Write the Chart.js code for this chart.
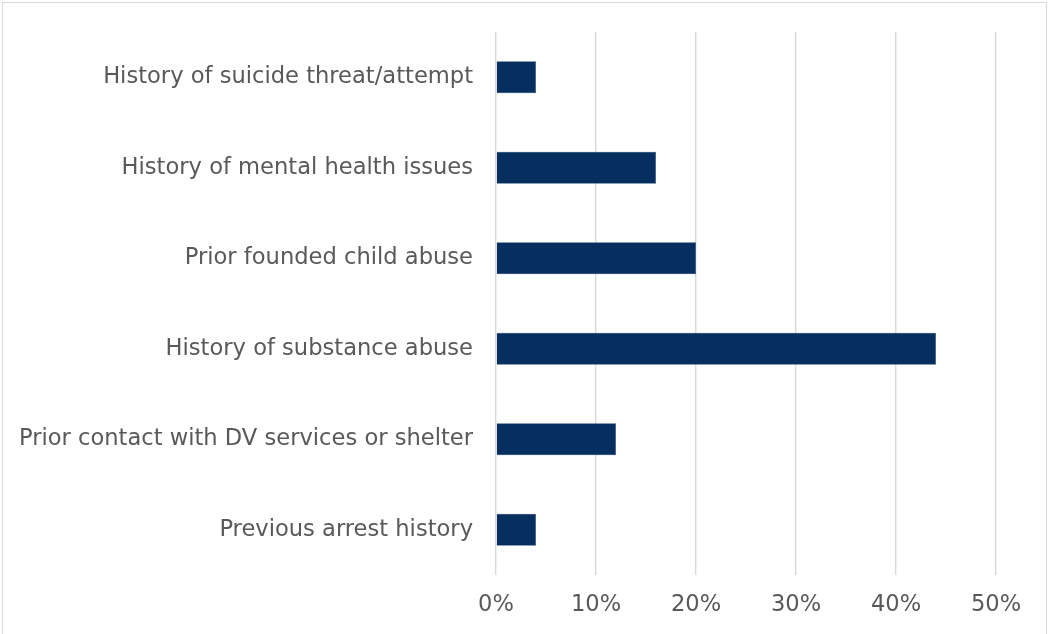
<!DOCTYPE html>
<html>
<head>
<meta charset="utf-8">
<script src="https://cdn.jsdelivr.net/npm/chart.js@4"></script>
<style>
  html, body { margin: 0; padding: 0; background: #fff; }
  #wrap { position: relative; width: 1051px; height: 634px; overflow: hidden; }
  #frame {
    position: absolute; left: 2px; top: 2px; width: 1045px; height: 640px;
    border: 1px solid #d9d9d9; box-sizing: border-box;
  }
  #chart { position: absolute; left: 0; top: 0; }
</style>
</head>
<body>
<div id="wrap">
  <div id="frame"></div>
  <canvas id="chart" width="1051" height="634"></canvas>
</div>
<script>
// risk factors, top to bottom
let categories = [
    "History of suicide threat/attempt",
    "History of mental health issues",
    "Prior founded child abuse",
    "History of substance abuse",
    "Prior contact with DV services or shelter",
    "Previous arrest history"
];
let percentValues = [4, 16, 20, 44, 12, 4];
let tickValues = [0, 10, 20, 30, 40, 50];

let labelFont = { family: "'DejaVu Sans', sans-serif", size: 22.6 };
let textColor = "#595959";

let ctx = document.getElementById("chart").getContext("2d");

new Chart(ctx, {
    type: "bar",
    data: {
        labels: categories,
        datasets: [{
            data: percentValues,
            backgroundColor: "#062e5e",
            borderColor: "#1d4675",
            borderWidth: 0.5,
            categoryPercentage: 1,
            barPercentage: 0.354
        }]
    },
    options: {
        indexAxis: "y",
        responsive: false,
        animation: false,
        layout: { padding: { top: 32, right: 55, left: 0, bottom: 0 } },
        plugins: {
            legend: { display: false },
            tooltip: { enabled: false }
        },
        scales: {
            x: {
                min: 0,
                max: 50,
                afterBuildTicks: scale => {
                    scale.ticks = tickValues.map(v => ({ value: v }));
                },
                afterFit: scale => { scale.height = 59; },
                ticks: {
                    color: textColor,
                    font: labelFont,
                    padding: 17,
                    callback: v => v + "%"
                },
                grid: { color: "#d9d9d9", lineWidth: 1.4, drawTicks: false },
                border: { display: false }
            },
            y: {
                afterFit: scale => {
                    scale.width = 496;
                    scale.paddingTop = 0;
                    scale.paddingBottom = 0;
                },
                ticks: {
                    color: textColor,
                    font: labelFont,
                    padding: 23
                },
                grid: { display: false, drawTicks: false },
                border: { display: false }
            }
        }
    }
});
</script>
</body>
</html>
